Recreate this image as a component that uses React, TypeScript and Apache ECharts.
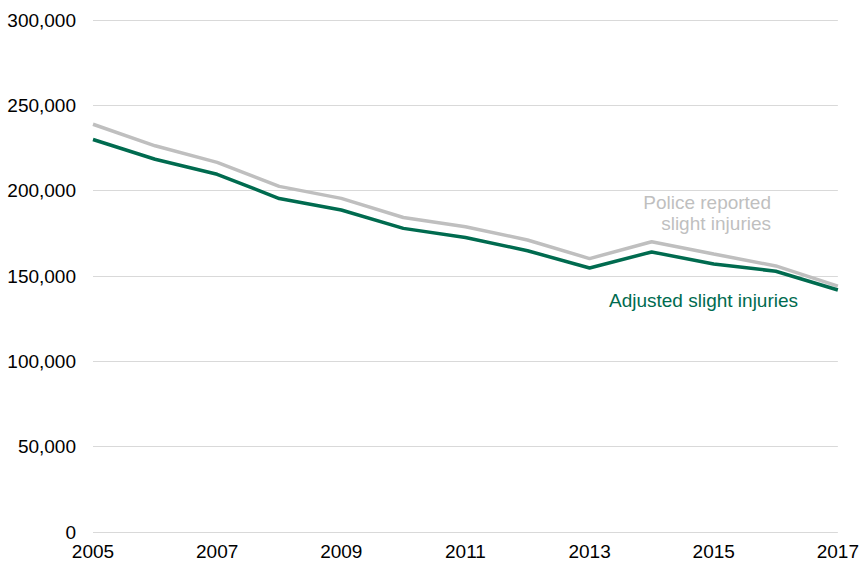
import React, { useEffect, useRef } from "react";
import * as echarts from "echarts";

const years = ["2005", "2006", "2007", "2008", "2009", "2010", "2011", "2012", "2013", "2014", "2015", "2016", "2017"];
const policeReported = [238900, 226300, 216600, 202500, 195500, 184300, 178900, 171100, 160200, 170100, 162900, 155900, 144100];
const adjusted = [230000, 218400, 209600, 195400, 188700, 177900, 172600, 164800, 154700, 164100, 157000, 152800, 141800];

const GREEN = "#006b4f";
const GRAY = "#bfbfbf";
const FONT = "'Liberation Sans', Arial, sans-serif";

export default function App() {
  const ref = useRef<HTMLDivElement>(null);
  useEffect(() => {
    if (!ref.current) return;
    const chart = echarts.init(ref.current, null, { renderer: "svg" });
    chart.setOption({
      animation: false,
      backgroundColor: "#ffffff",
      grid: { left: 93, right: 21, top: 20, bottom: 33, containLabel: false },
      xAxis: {
        type: "category",
        data: years,
        boundaryGap: false,
        axisLine: { show: false },
        axisTick: { show: false },
        axisLabel: { interval: 1, color: "#000", fontSize: 19, fontFamily: FONT, margin: 10 },
        splitLine: { show: false },
      },
      yAxis: {
        type: "value",
        min: 0,
        max: 300000,
        interval: 50000,
        axisLine: { show: false },
        axisTick: { show: false },
        axisLabel: {
          color: "#000",
          fontSize: 19,
          fontFamily: FONT,
          margin: 17,
          formatter: (v: number) => v.toLocaleString("en-US"),
        },
        splitLine: { lineStyle: { color: "#d9d9d9", width: 1 } },
      },
      series: [
        {
          name: "Police reported slight injuries",
          type: "line",
          data: policeReported,
          symbol: "none",
          lineStyle: { color: GRAY, width: 3.5 },
          z: 2,
        },
        {
          name: "Adjusted slight injuries",
          type: "line",
          data: adjusted,
          symbol: "none",
          lineStyle: { color: GREEN, width: 3.5 },
          z: 3,
        },
      ],
      graphic: [
        {
          type: "text",
          right: 91,
          top: 193,
          style: { text: "Police reported", fill: GRAY, fontSize: 19, fontFamily: FONT },
        },
        {
          type: "text",
          right: 91,
          top: 214,
          style: { text: "slight injuries", fill: GRAY, fontSize: 19, fontFamily: FONT },
        },
        {
          type: "text",
          left: 609,
          top: 291,
          style: { text: "Adjusted slight injuries", fill: GREEN, fontSize: 19, fontFamily: FONT },
        },
      ],
    });
    return () => chart.dispose();
  }, []);
  return (
    <div
      ref={ref}
      style={{ position: "absolute", left: 0, top: 0, width: 862, height: 565 }}
    />
  );
}
